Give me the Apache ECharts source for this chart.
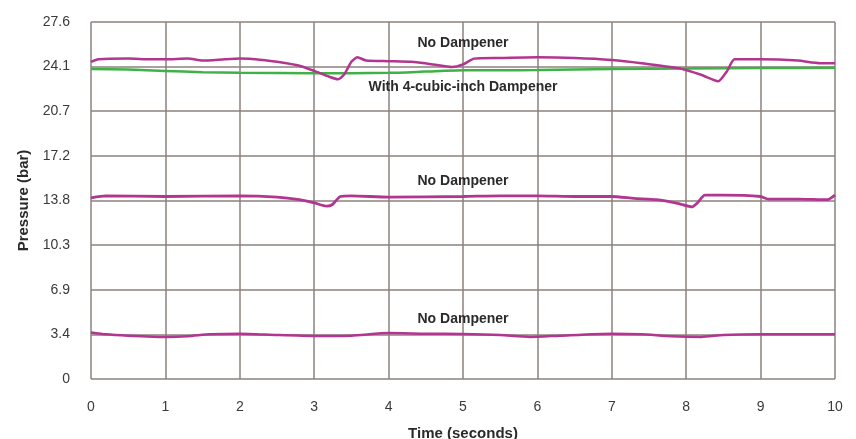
<!DOCTYPE html>
<html><head><meta charset="utf-8">
<script src="https://cdn.jsdelivr.net/npm/echarts@6/dist/echarts.min.js"></script>
<style>html,body{margin:0;padding:0;background:#fff}#c{width:856px;height:439px}</style>
</head><body><div id="c"></div>
<script>
// psi-based tick step converted to bar (50 psi)
const yStep = 3.44738;
const yTickLabels = ['0','3.4','6.9','10.3','13.8','17.2','20.7','24.1','27.6'];
const xTicks = [0,1,2,3,4,5,6,7,8,9,10];

const topT = [0,0.1,0.5,0.8,1,1.3,1.5,1.8,2,2.3,2.5,2.8,3.0,3.2,3.32,3.4,3.5,3.58,3.7,4,4.3,4.6,4.85,5.0,5.15,5.5,6,6.5,7,7.4,7.9,8.2,8.43,8.55,8.65,9,9.5,9.8,10];
const topV = [24.5,24.7,24.75,24.7,24.7,24.75,24.6,24.7,24.75,24.65,24.5,24.2,23.8,23.35,23.15,23.5,24.5,24.85,24.6,24.55,24.5,24.3,24.1,24.3,24.75,24.8,24.85,24.8,24.65,24.4,24.0,23.5,23.0,23.8,24.7,24.7,24.6,24.4,24.4];

const dampT = [0,0.5,1,1.5,2,3,4,4.5,5,5.5,6,7,8,9,10];
const dampV = [23.95,23.9,23.8,23.7,23.65,23.62,23.65,23.75,23.85,23.85,23.87,23.95,23.98,24.02,24.05];

const midT = [0,0.2,1,2,2.5,2.8,3.0,3.17,3.25,3.35,3.5,4,5,5.5,6,6.5,7,7.3,7.6,7.9,8.08,8.15,8.25,8.5,9,9.1,9.5,9.9,10];
const midV = [14.0,14.15,14.1,14.15,14.05,13.85,13.6,13.35,13.5,14.1,14.15,14.05,14.1,14.15,14.15,14.1,14.1,13.95,13.85,13.55,13.3,13.6,14.2,14.2,14.1,13.9,13.9,13.85,14.2];

const lowT = [0,0.2,0.5,1,1.3,1.6,2,2.5,3,3.5,4,4.5,5,5.5,5.9,6.3,7,7.4,7.8,8.2,8.5,9,9.5,10];
const lowV = [3.6,3.45,3.35,3.25,3.3,3.45,3.5,3.4,3.33,3.35,3.55,3.5,3.48,3.4,3.25,3.35,3.5,3.45,3.3,3.25,3.4,3.45,3.45,3.45];

const labels = [
  {text:'No Dampener', x:5, y:25.95},
  {text:'With 4-cubic-inch Dampener', x:5, y:22.55},
  {text:'No Dampener', x:5, y:15.3},
  {text:'No Dampener', x:5, y:4.6}
];

const zip = (t,v)=>t.map((x,i)=>[x,v[i]]);
const magenta = '#b2368f', green = '#3fb146';
const font = '"Liberation Sans", Arial, sans-serif';

const chart = echarts.init(document.getElementById('c'), null, {renderer:'canvas'});
chart.setOption({
  animation:false,
  backgroundColor:'#fff',
  grid:{left:91, right:21, top:22, bottom:60, containLabel:false, outerBoundsMode:'none'},
  xAxis:{type:'value', min:0, max:10, interval:1,
    name:'Time (seconds)', nameLocation:'middle', nameGap:47,
    nameTextStyle:{fontFamily:font, fontWeight:'bold', fontSize:15, color:'#2a2a2a'},
    axisLine:{show:false}, axisTick:{show:false},
    axisLabel:{fontFamily:font, fontSize:14, color:'#3a3a3a', margin:21, formatter:v=>String(v)},
    splitLine:{show:true, lineStyle:{color:'#8c827d', width:1.5}}},
  yAxis:{type:'value', min:0, max:yStep*8, interval:yStep,
    name:'Pressure (bar)', nameLocation:'middle', nameGap:60, nameRotate:90,
    nameTextStyle:{fontFamily:font, fontWeight:'bold', fontSize:15, color:'#2a2a2a'},
    axisLine:{show:false}, axisTick:{show:false},
    axisLabel:{fontFamily:font, fontSize:14, color:'#3a3a3a', margin:21,
      formatter:(v)=>yTickLabels[Math.round(v/yStep)]},
    splitLine:{show:true, lineStyle:{color:'#8c827d', width:1.5}}},
  series:[
    {type:'line', data:zip(dampT,dampV), symbol:'none', smooth:0.2, lineStyle:{color:green, width:2.5}, z:3},
    {type:'line', data:zip(topT,topV), symbol:'none', smooth:0.2, lineStyle:{color:magenta, width:2.5}, z:4},
    {type:'line', data:zip(midT,midV), symbol:'none', smooth:0.2, lineStyle:{color:magenta, width:2.8}, z:4},
    {type:'line', data:zip(lowT,lowV), symbol:'none', smooth:0.2, lineStyle:{color:magenta, width:2.5}, z:4,
     markPoint:{symbol:'circle', symbolSize:0, silent:true,
       label:{show:true, position:'inside', fontFamily:font, fontWeight:'bold', fontSize:14, color:'#2a2a2a',
         formatter:p=>p.name},
       data:labels.map(l=>({name:l.text, coord:[l.x,l.y]}))}}
  ]
});
</script></body></html>
